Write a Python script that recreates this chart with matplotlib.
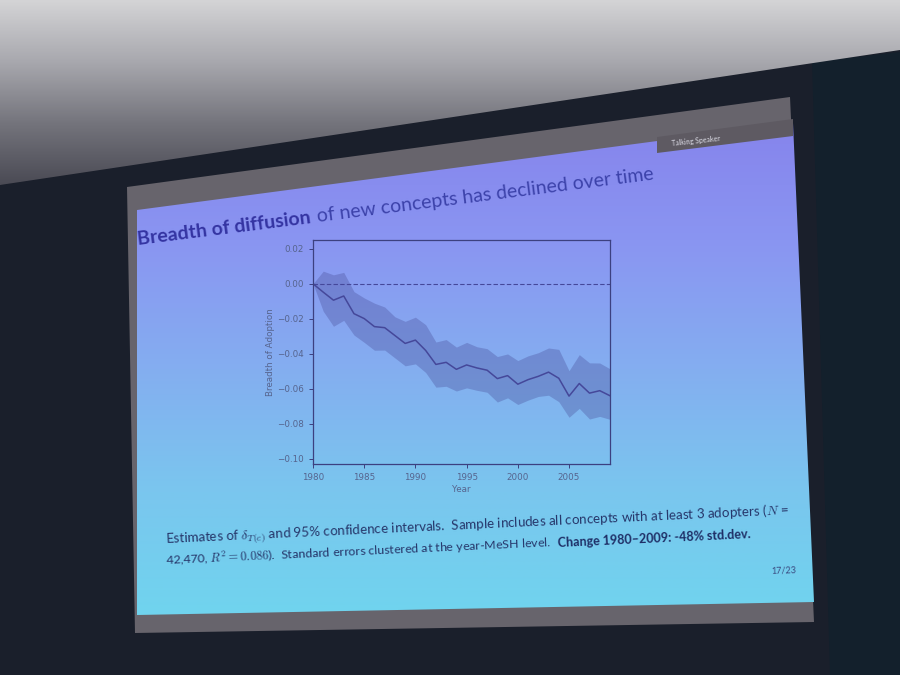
import numpy as np
import matplotlib
matplotlib.use("Agg")
import matplotlib.pyplot as plt
from matplotlib.patches import Polygon
from matplotlib.colors import LinearSegmentedColormap

# ---------------- data ----------------
years = list(range(1980, 2010))
estimate = [0.0, -0.0048, -0.0094, -0.0070, -0.0171, -0.0199, -0.0245, -0.0251, -0.0296, -0.0341,
            -0.0322, -0.0381, -0.0461, -0.0449, -0.0489, -0.0464, -0.0481, -0.0494, -0.0542, -0.0525,
            -0.0574, -0.0548, -0.0529, -0.0505, -0.0540, -0.0642, -0.0570, -0.0625, -0.0611, -0.0640]
ci_upper = [0.0, 0.0072, 0.0051, 0.0065, -0.0045, -0.0081, -0.0111, -0.0133, -0.0189, -0.0215,
            -0.0191, -0.0234, -0.0333, -0.0319, -0.0362, -0.0335, -0.0360, -0.0371, -0.0416, -0.0401,
            -0.0439, -0.0412, -0.0394, -0.0367, -0.0375, -0.0497, -0.0405, -0.0452, -0.0453, -0.0486]
ci_lower = [0.0, -0.0157, -0.0243, -0.0209, -0.0293, -0.0335, -0.0380, -0.0379, -0.0424, -0.0469,
            -0.0458, -0.0507, -0.0591, -0.0586, -0.0613, -0.0595, -0.0609, -0.0620, -0.0676, -0.0652,
            -0.0690, -0.0665, -0.0644, -0.0637, -0.0674, -0.0763, -0.0712, -0.0773, -0.0758, -0.0775]
year_ticks = [1980, 1985, 1990, 1995, 2000, 2005]
value_ticks = [0.02, 0.00, -0.02, -0.04, -0.06, -0.08, -0.10]

title_bold = "Breadth of diffusion"
title_rest = "of new concepts has declined over time"
caption_line1 = r"Estimates of $\delta_{T(c)}$ and 95% confidence intervals.  Sample includes all concepts with at least 3 adopters ($N$ ="
caption_line2 = r"42,470, $R^2 = 0.086$).  Standard errors clustered at the year-MeSH level."
caption_bold = "Change 1980–2009: -48% std.dev."
page_label = "17/23"
header_label = "Talking Speaker"

plt.rcParams['font.family'] = ['Lato', 'DejaVu Sans']
plt.rcParams['mathtext.fontset'] = 'cm'

fig = plt.figure(figsize=(9, 6.75), dpi=100)
fig.patch.set_facecolor('#181c28')
bg = fig.add_axes([0, 0, 1, 1], zorder=0)
bg.set_xlim(0, 900)
bg.set_ylim(675, 0)
bg.axis('off')


def gradient_polygon(verts, colors, zorder):
    poly = Polygon(verts, closed=True, facecolor='none', edgecolor='none', zorder=zorder)
    bg.add_patch(poly)
    xs = [v[0] for v in verts]
    ys = [v[1] for v in verts]
    cmap = LinearSegmentedColormap.from_list('g', colors)
    grad = np.linspace(0, 1, 256).reshape(-1, 1)
    im = bg.imshow(grad, cmap=cmap, extent=(min(xs), max(xs), max(ys), min(ys)),
                   origin='upper', aspect='auto', zorder=zorder, interpolation='bilinear')
    im.set_clip_path(poly)


# room background
gradient_polygon([(0, 0), (900, 0), (900, 50), (0, 185)],
                 ['#d4d4d6', '#a8a8ae', '#74747c', '#4a4a54'], 1)
bg.add_patch(Polygon([(0, 185), (0, 675), (900, 675), (900, 50)], closed=True,
                     facecolor='#1a1f2b', edgecolor='none', zorder=0.5))
bg.add_patch(Polygon([(812, 62), (900, 52), (900, 675), (830, 675)], closed=True,
                     facecolor='#13202c', edgecolor='none', zorder=0.6))

# slide frame, slide and header tab
bg.add_patch(Polygon([(127, 187), (790, 97), (814, 622), (135, 633)], closed=True,
                     facecolor='#67646c', edgecolor='none', zorder=2))
gradient_polygon([(137, 210), (793, 123), (814, 602), (137, 615)],
                 ['#8684ec', '#8a96f2', '#84aef0', '#7ac6ee', '#70d4ee'], 3)
bg.add_patch(Polygon([(657, 137), (793, 119), (793, 136), (657, 153)], closed=True,
                     facecolor='#5e5a62', edgecolor='none', zorder=4))

renderer = fig.canvas.get_renderer()


def measure(s, **kw):
    t = bg.text(0, 0, s, **kw)
    w = t.get_window_extent(renderer).width
    t.remove()
    return w


def put(x, y, s, fs, angle, **kw):
    bg.text(x, y, s, fontsize=fs, rotation=angle, rotation_mode='anchor',
            ha='left', va='baseline', zorder=6, **kw)
    return measure(s, fontsize=fs, **kw)


def advance(x, y, dist, angle):
    th = np.deg2rad(angle)
    return x + dist * np.cos(th), y - dist * np.sin(th)


# title: one size for both parts, fitted to the slide width
ang_t = 7.2
x0, y0 = 138, 245
gap_t = 6
tot20 = measure(title_bold, fontsize=20, fontweight='bold') + measure(title_rest, fontsize=20)
fs_t = 20 * (520 - gap_t) / tot20
w = put(x0, y0, title_bold, fs_t, ang_t, color='#3434a2', fontweight='bold')
x1, y1 = advance(x0, y0, w + gap_t, ang_t)
put(x1, y1, title_rest, fs_t, ang_t, color='#3c42aa')

# caption
ang_c = 2.65
fs_c = 20 * 624 / measure(caption_line1, fontsize=20)
put(166, 543, caption_line1, fs_c, ang_c, color='#26366a')
w2 = put(166, 565, caption_line2, fs_c * 0.92, ang_c, color='#26366a')
x2, y2 = advance(166, 565, w2 + 7, ang_c)
fs_cb = 20 * (752 - x2) / measure(caption_bold, fontsize=20, fontweight='bold')
put(x2, y2, caption_bold, fs_cb, ang_c, color='#1e2e66', fontweight='bold')

bg.text(771, 574, page_label, fontsize=6.5, color='#3a4a80', rotation=2.0,
        rotation_mode='anchor', ha='left', va='baseline', zorder=6)
bg.text(672, 146, header_label, fontsize=5, color='#dcdce6', rotation=6,
        rotation_mode='anchor', ha='left', va='baseline', zorder=6)

# ---------------- chart ----------------
ax = fig.add_axes([313 / 900, 1 - 464 / 675, 297 / 900, 224 / 675], zorder=5)
ax.set_facecolor('none')
ax.fill_between(years, ci_lower, ci_upper, color='#4a4f9a', alpha=0.35, linewidth=0)
ax.plot(years, estimate, color='#45489a', linewidth=1.1)
ax.axhline(0, color='#45489a', linewidth=0.8, linestyle=(0, (4, 2)))
ax.set_xlim(1980, 2009)
ax.set_ylim(-0.103, 0.025)
ax.set_xticks(year_ticks)
ax.set_yticks(value_ticks)
ax.set_yticklabels([f"{v:.2f}".replace('-', '\u2212') for v in value_ticks])
for sp in ax.spines.values():
    sp.set_color('#3c4080')
    sp.set_linewidth(0.9)
ax.tick_params(colors='#3c4080', labelcolor='#56648e', labelsize=6.3, length=3, width=0.7)
for lab in ax.get_xticklabels() + ax.get_yticklabels():
    lab.set_family('DejaVu Sans')
ax.set_xlabel('Year', fontsize=6.3, color='#56648e', family='DejaVu Sans', labelpad=2)
ax.set_ylabel('Breadth of Adoption', fontsize=6.3, color='#56648e', family='DejaVu Sans', labelpad=1.5)

fig.savefig('out.png', dpi=100, facecolor=fig.get_facecolor())
